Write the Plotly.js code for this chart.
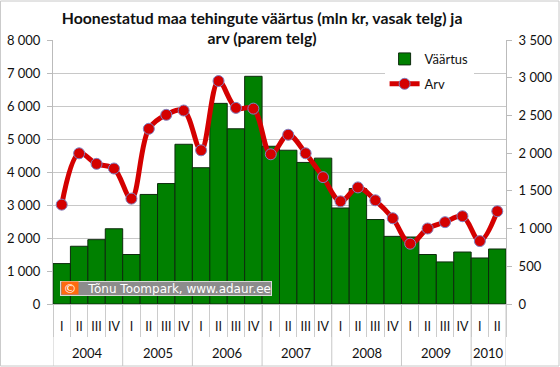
<!DOCTYPE html>
<html>
<head>
<meta charset="utf-8">
<script src="https://cdn.plot.ly/plotly-3.0.1.min.js"></script>
<style>html,body{margin:0;padding:0;background:#fff;}#chart{width:560px;height:367px;}</style>
</head>
<body>
<div id="chart"></div>
<script>
const years = ['2004','2004','2004','2004','2005','2005','2005','2005','2006','2006','2006','2006','2007','2007','2007','2007','2008','2008','2008','2008','2009','2009','2009','2009','2010','2010'];
const quarters = ['I','II','III','IV','I','II','III','IV','I','II','III','IV','I','II','III','IV','I','II','III','IV','I','II','III','IV','I','II'];
const vaartus = [1225,1750,1950,2280,1500,3320,3650,4840,4130,6080,5310,6900,4780,4660,4290,4420,2910,3500,2560,2050,2030,1500,1275,1575,1395,1667];
const arv = [1317,1998,1858,1796,1397,2323,2508,2565,2038,2956,2600,2590,1985,2244,1998,1682,1361,1546,1375,1137,799,1001,1085,1164,834,1230];

const FONT = 'Lato, "Open Sans", sans-serif';

// positions on the x scale: one slot per quarter
const idx = quarters.map((q, i) => i);
const qBounds = idx.map(i => i - 0.5).concat([quarters.length - 0.5]);

// year groups derived from the years array
const yearGroups = [];
years.forEach((y, i) => {
  const g = yearGroups[yearGroups.length - 1];
  if (g && g.year === y) { g.end = i; } else { yearGroups.push({year: y, start: i, end: i}); }
});
const yearBounds = yearGroups.map(g => g.start - 0.5).concat([years.length - 0.5]);

const traces = [
  {
    type: 'bar', name: 'Väärtus', legendgroup: 'a',
    x: idx, y: vaartus, width: 1,
    marker: {color: '#008000', line: {color: '#0d2b0d', width: 1}},
    yaxis: 'y'
  },
  {
    type: 'scatter', mode: 'lines+markers', name: 'Arv', legendgroup: 'b',
    x: idx, y: arv,
    line: {color: '#d40000', width: 5, shape: 'spline', smoothing: 1},
    marker: {color: '#d40000', size: 11, line: {color: '#8080c0', width: 1}},
    yaxis: 'y2'
  }
];

const annotations = yearGroups.map(g => ({
  xref: 'x', yref: 'paper', x: (g.start + g.end) / 2, y: 0, yshift: -49,
  xanchor: 'center', yanchor: 'middle', showarrow: false, text: g.year,
  font: {family: FONT, size: 13, color: '#111'}
}));
annotations.push(
  {
    xref: 'paper', yref: 'paper', x: 7/453, y: 8/264, xanchor: 'left', yanchor: 'bottom',
    width: 210, height: 13, align: 'right', borderpad: 0,
    text: 'Tõnu Toompark, www.adaur.ee',
    showarrow: false, bgcolor: '#8c8c8c', bordercolor: '#d8d8d8', borderwidth: 1,
    font: {family: '"DejaVu Sans", sans-serif', size: 12, color: '#fff'}
  },
  {
    xref: 'paper', yref: 'paper', x: 8/453, y: 9/264, xanchor: 'left', yanchor: 'bottom',
    width: 16, height: 12, borderpad: 0,
    text: '©', showarrow: false, bgcolor: '#ff6a10',
    font: {family: '"DejaVu Sans", sans-serif', size: 13, color: '#fff'}
  }
);

const shapes = yearBounds.map(b => ({
  type: 'line', xref: 'x', yref: 'paper', x0: b, x1: b, y0: 0, y1: -62/264,
  line: {color: '#c8c8c8', width: 1}
}));
shapes.push({type: 'rect', xref: 'paper', yref: 'paper',
  x0: -53/453 + 0.001, x1: 1 + 53/453, y0: -62/264, y1: 1 + 39/264,
  line: {color: '#c8c8c8', width: 1}, layer: 'below'});

const layout = {
  width: 560, height: 367,
  margin: {l: 53, r: 54, t: 40, b: 63},
  paper_bgcolor: '#fff', plot_bgcolor: '#fff',
  separators: ', ',
  font: {family: FONT, size: 13, color: '#111'},
  title: {
    text: '<b>Hoonestatud maa tehingute väärtus (mln kr, vasak telg) ja<br>arv (parem telg)</b>',
    font: {family: FONT, size: 15.8, color: '#111'},
    x: 0.468, xref: 'container', xanchor: 'center',
    y: 0.935, yref: 'container', yanchor: 'top'
  },
  bargap: 0,
  showlegend: true,
  legend: {
    x: 0.732, y: 0.985, xanchor: 'left', yanchor: 'top',
    bgcolor: '#fff', font: {family: FONT, size: 13, color: '#111'},
    itemwidth: 30, tracegroupgap: 5
  },
  xaxis: {
    type: 'linear', range: [-0.5, quarters.length - 0.5],
    tickmode: 'array', tickvals: idx, ticktext: quarters,
    ticks: '', ticklabelstandoff: 11,
    minor: {tickmode: 'array', tickvals: qBounds, ticks: 'outside', ticklen: 32, tickcolor: '#ccc', tickwidth: 1, showgrid: false},
    showline: true, linecolor: '#bbb', linewidth: 1,
    tickfont: {family: FONT, size: 12.5, color: '#111'},
    showgrid: false, zeroline: false
  },
  yaxis: {
    range: [0, 8000], dtick: 1000, tickformat: ',d',
    showgrid: true, gridcolor: '#c8c8c8', gridwidth: 1,
    zeroline: false,
    showline: true, linecolor: '#bbb', linewidth: 1,
    ticks: 'outside', ticklen: 5, tickcolor: '#bbb', ticklabelstandoff: 4,
    tickfont: {family: FONT, size: 13, color: '#111'}
  },
  yaxis2: {
    overlaying: 'y', side: 'right',
    range: [0, 3500], dtick: 500, tickformat: ',d',
    showgrid: false, zeroline: false,
    showline: true, linecolor: '#bbb', linewidth: 1,
    ticks: 'outside', ticklen: 5, tickcolor: '#bbb', ticklabelstandoff: 4,
    tickfont: {family: FONT, size: 13, color: '#111'}
  },
  annotations: annotations,
  shapes: shapes
};

Plotly.newPlot('chart', traces, layout, {displayModeBar: false, staticPlot: true});
</script>
</body>
</html>
